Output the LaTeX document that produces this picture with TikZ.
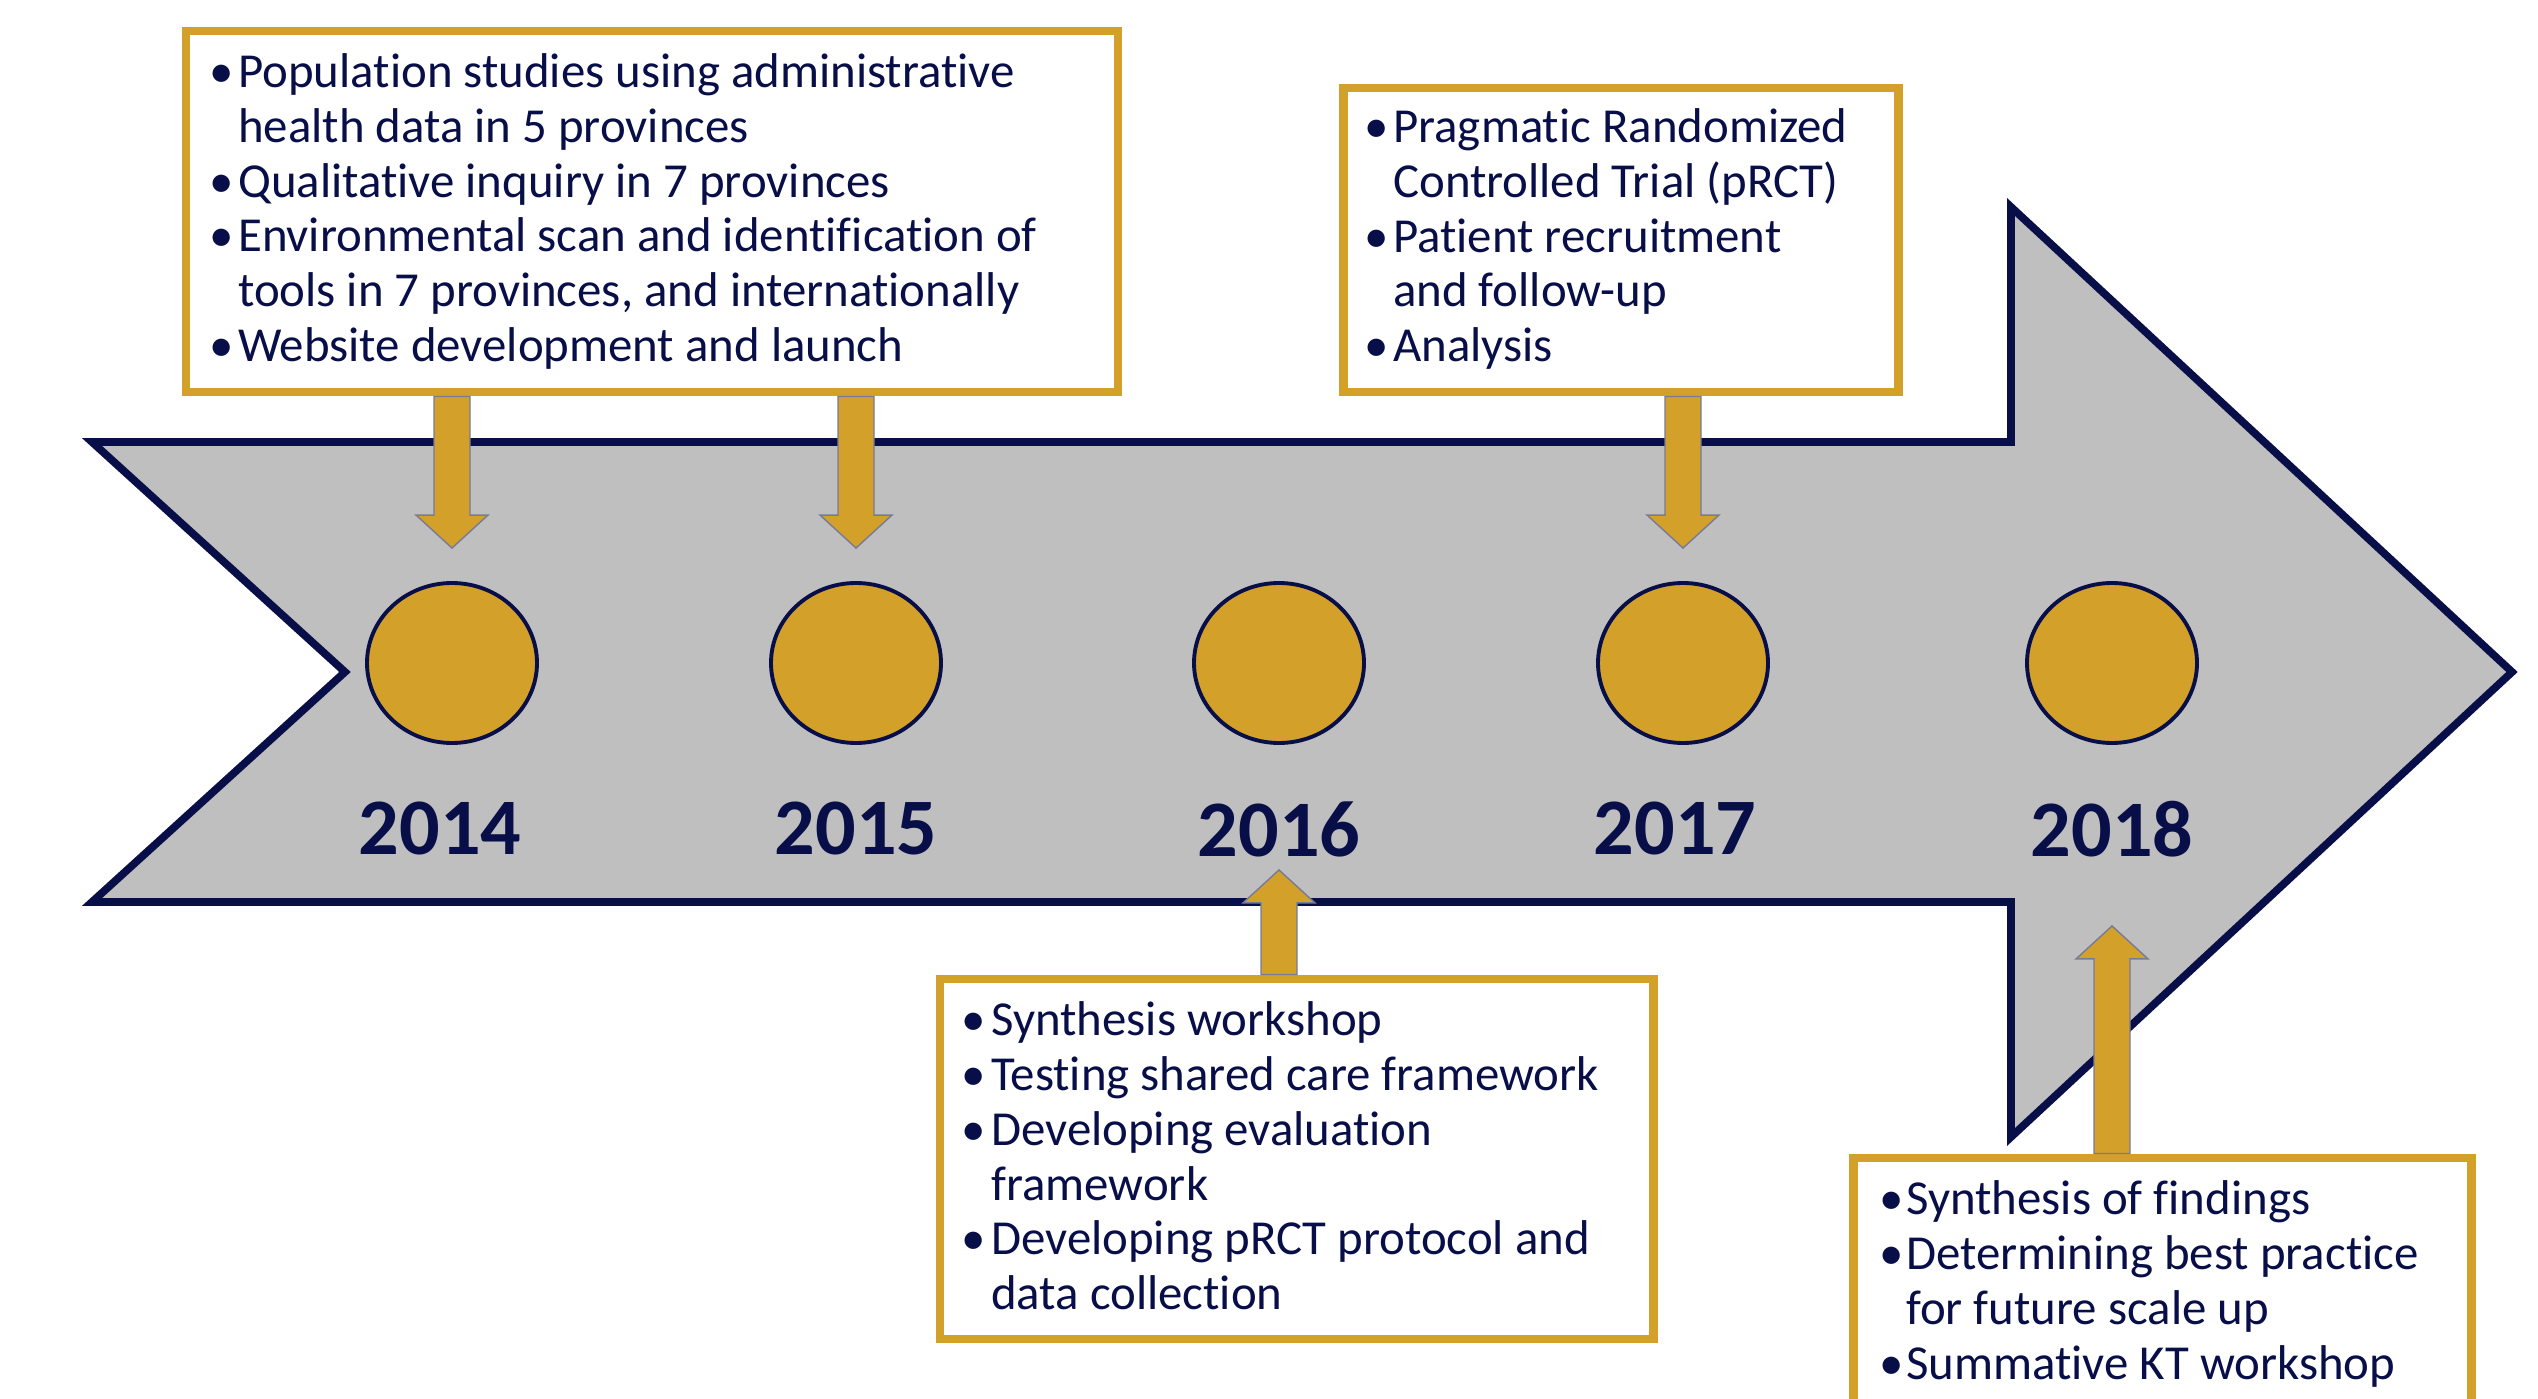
\documentclass[tikz,border=0pt]{standalone}
\usepackage{fontspec}
\setmainfont{Carlito}[Ligatures=CommonOff]
\usetikzlibrary{positioning,calc,shapes.geometric}

\definecolor{navy}{RGB}{8,14,72}
\definecolor{gold}{RGB}{211,160,42}
\definecolor{shaftgray}{RGB}{191,191,191}

\tikzset{
  milestone/.style={ellipse, draw=navy, line width=1.1pt, fill=gold, minimum width=17mm, minimum height=16mm, inner sep=0},
  year/.style={font=\fontsize{22.8}{26}\selectfont\bfseries, text=navy, inner sep=0},
  taskbox/.style={draw=gold, line width=2.55pt, fill=white, inner sep=0},
  tasktext/.style={anchor=base west, inner sep=0, text=navy, font=\fontsize{13.9}{15.6}\selectfont},
  blockarr/.style={fill=gold, draw=navy!55, line width=0.4pt, line join=miter}
}

\newcommand\blockarrow[2]{%
  \path ($(#2)!3.3mm!(#1)$) coordinate (head);
  \draw[blockarr] ($(#1)!1.8mm!90:(#2)$) -- ($(head)!1.8mm!90:(#2)$) -- ($(head)!3.6mm!90:(#2)$) -- (#2)
    -- ($(head)!3.6mm!-90:(#2)$) -- ($(head)!1.8mm!-90:(#2)$) -- ($(#1)!1.8mm!-90:(#2)$) -- cycle;}

\begin{document}
\begin{tikzpicture}[x=0.1mm,y=0.1mm]
\useasboundingbox (0,0) rectangle (2538,1398);
\clip (0,0) rectangle (2538,1398);

\draw[fill=shaftgray, draw=navy, line width=2.2pt, line join=miter]
  (92,956) -- (2011,956) -- (2011,1191) -- (2512,726) -- (2011,261) -- (2011,496) -- (92,496) -- (345,726) -- cycle;

\node[milestone] (c2014) at (452,735) {};
\node[milestone] (c2015) at (856,735) {};
\node[milestone] (c2016) at (1279,735) {};
\node[milestone] (c2017) at (1683,735) {};
\node[milestone] (c2018) at (2112,735) {};

\node[year, below=5.6mm of c2014, xshift=-1.2mm] (y2014) {2014};
\node[year, below=5.6mm of c2015] (y2015) {2015};
\node[year, below=5.6mm of c2016] (y2016) {2016};
\node[year, below=5.6mm of c2017, xshift=-0.8mm] (y2017) {2017};
\node[year, below=5.6mm of c2018] (y2018) {2018};

\node[taskbox, minimum width=93.2mm, minimum height=36.1mm] (b2014) at (652,1186.5) {};
\node[taskbox, minimum width=55.5mm, minimum height=30.4mm] (b2017) at (1620.5,1158) {};
\node[taskbox, minimum width=71.3mm, minimum height=36mm] (b2016) at (1296.5,239) {};
\node[taskbox, minimum width=61.8mm, minimum height=30mm] (b2018) at (2162,90) {};

\coordinate (tip2014) at ($(c2014.north)+(0,33)$);
\coordinate (tip2015) at ($(c2015.north)+(0,33)$);
\coordinate (tip2017) at ($(c2017.north)+(0,33)$);
\coordinate (tip2016) at ($(c2016.south)+(0,-125)$);
\coordinate (tip2018) at ($(c2018.south)+(0,-181)$);

\blockarrow{b2014.south -| c2014}{tip2014}
\blockarrow{b2014.south -| c2015}{tip2015}
\blockarrow{b2017.south -| c2017}{tip2017}
\blockarrow{b2016.north -| c2016}{tip2016}
\blockarrow{b2018.north -| c2018}{tip2018}

\node[tasktext] (t2014) at ($(b2014.north west)+(27,-61)$) {\begin{tabular}[t]{@{}p{2.9mm}@{}l@{}}
\textbullet & Population studies using administrative\\
 & health data in 5 provinces\\
\textbullet & Qualitative inquiry in 7 provinces\\
\textbullet & Environmental scan and identification of\\
 & tools in 7 provinces, and internationally\\
\textbullet & Website development and launch
\end{tabular}};

\node[tasktext] (t2017) at ($(b2017.north west)+(25,-59)$) {\begin{tabular}[t]{@{}p{2.9mm}@{}l@{}}
\textbullet & Pragmatic Randomized\\
 & Controlled Trial (pRCT)\\
\textbullet & Patient recruitment\\
 & and follow-up\\
\textbullet & Analysis
\end{tabular}};

\node[tasktext] (t2016) at ($(b2016.north west)+(25,-61)$) {\begin{tabular}[t]{@{}p{3mm}@{}l@{}}
\textbullet & Synthesis workshop\\
\textbullet & Testing shared care framework\\
\textbullet & Developing evaluation\\
 & framework\\
\textbullet & Developing pRCT protocol and\\
 & data collection
\end{tabular}};

\node[tasktext] (t2018) at ($(b2018.north west)+(30,-61)$) {\begin{tabular}[t]{@{}p{2.7mm}@{}l@{}}
\textbullet & Synthesis of findings\\
\textbullet & Determining best practice\\
 & for future scale up\\
\textbullet & Summative KT workshop
\end{tabular}};

\end{tikzpicture}
\end{document}
